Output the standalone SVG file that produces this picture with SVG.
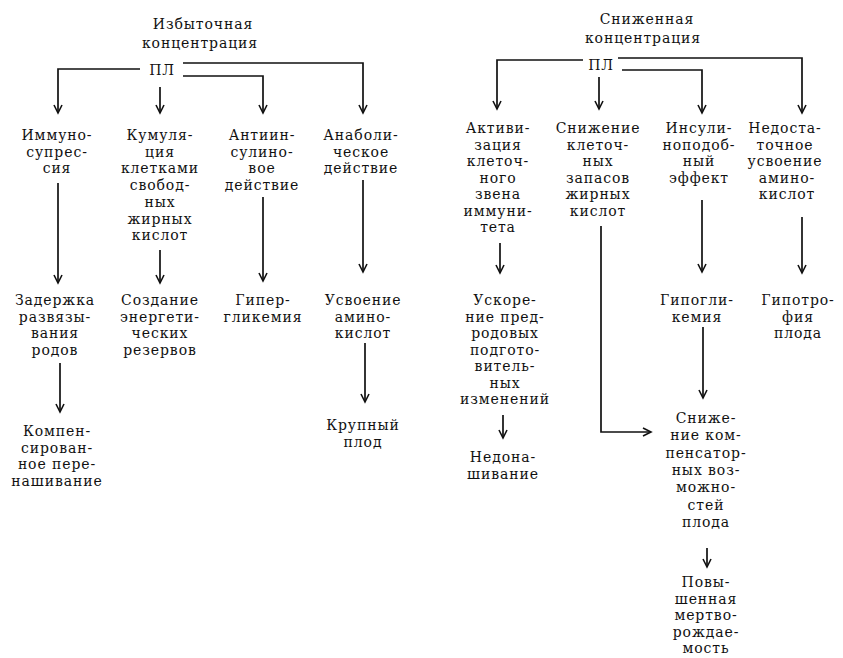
<svg xmlns="http://www.w3.org/2000/svg" width="843" height="658" viewBox="0 0 843 658">
<style>
text{font-family:"DejaVu Serif","Liberation Serif",serif;font-size:14px;letter-spacing:0.9px;fill:#111;text-anchor:middle}
.c path{fill:none;stroke:#111;stroke-width:1.7}
</style>
<defs>
<marker id="a" markerUnits="userSpaceOnUse" markerWidth="12" markerHeight="12" viewBox="-10 -6 12 12" refX="0" refY="0" orient="auto"><path d="M-8,-4 L0,0 L-8,4" fill="none" stroke="#111" stroke-width="1.6"/></marker>
</defs>
<rect width="843" height="658" fill="#fff"/>
<g class="c" id="connectors">
<path d="M140,69 H58 V113" marker-end="url(#a)"/>
<path d="M160,87 V113" marker-end="url(#a)"/>
<path d="M183,76 H263 V113" marker-end="url(#a)"/>
<path d="M183,63 H363 V113" marker-end="url(#a)"/>
<path d="M58,183 V283" marker-end="url(#a)"/>
<path d="M160,250 V283" marker-end="url(#a)"/>
<path d="M263,197 V281" marker-end="url(#a)"/>
<path d="M363,180 V272" marker-end="url(#a)"/>
<path d="M60,363 V412" marker-end="url(#a)"/>
<path d="M365,343 V402" marker-end="url(#a)"/>
<path d="M583,60 H497 V109" marker-end="url(#a)"/>
<path d="M599,77 V109" marker-end="url(#a)"/>
<path d="M622,70 H702 V113" marker-end="url(#a)"/>
<path d="M618,58 H802 V113" marker-end="url(#a)"/>
<path d="M500,243 V273" marker-end="url(#a)"/>
<path d="M601,226 V432 H651" marker-end="url(#a)"/>
<path d="M702,200 V272" marker-end="url(#a)"/>
<path d="M802,217 V273" marker-end="url(#a)"/>
<path d="M503,415 V438" marker-end="url(#a)"/>
<path d="M703,327 V398" marker-end="url(#a)"/>
<path d="M707,548 V567" marker-end="url(#a)"/>
</g>
<g id="title-left"><text x="203" y="29">Избыточная</text><text x="200" y="48">концентрация</text></g>
<g id="pl-left"><text x="162" y="75">ПЛ</text></g>
<g id="immuno"><text x="57" y="140">Иммуно-</text><text x="57" y="156.7">супрес-</text><text x="57" y="173.4">сия</text></g>
<g id="kumul"><text x="160" y="140">Кумуля-</text><text x="160" y="156.7">ция</text><text x="160" y="173.4">клетками</text><text x="160" y="190.1">свобод-</text><text x="160" y="206.8">ных</text><text x="160" y="223.5">жирных</text><text x="160" y="240.2">кислот</text></g>
<g id="antiins"><text x="262" y="140">Антиин-</text><text x="262" y="156.7">сулино-</text><text x="262" y="173.4">вое</text><text x="262" y="190.1">действие</text></g>
<g id="anabol"><text x="361" y="140">Анаболи-</text><text x="361" y="156.7">ческое</text><text x="361" y="173.4">действие</text></g>
<g id="zaderzhka"><text x="55" y="305">Задержка</text><text x="55" y="321.7">развязы-</text><text x="55" y="338.4">вания</text><text x="55" y="355.1">родов</text></g>
<g id="sozdanie"><text x="160" y="305">Создание</text><text x="160" y="321.7">энергети-</text><text x="160" y="338.4">ческих</text><text x="160" y="355.1">резервов</text></g>
<g id="hyper"><text x="263" y="305">Гипер-</text><text x="263" y="321.7">гликемия</text></g>
<g id="usvoenie"><text x="363" y="305">Усвоение</text><text x="363" y="321.7">амино-</text><text x="363" y="338.4">кислот</text></g>
<g id="kompens"><text x="57" y="436">Компен-</text><text x="57" y="452.5">сирован-</text><text x="57" y="469">ное пере-</text><text x="57" y="485.5">нашивание</text></g>
<g id="krupny"><text x="363" y="430">Крупный</text><text x="363" y="447">плод</text></g>
<g id="title-right"><text x="647" y="24">Сниженная</text><text x="643" y="43">концентрация</text></g>
<g id="pl-right"><text x="601" y="70">ПЛ</text></g>
<g id="aktiv"><text x="498" y="133">Активи-</text><text x="498" y="149.5">зация</text><text x="498" y="166">клеточ-</text><text x="498" y="182.5">ного</text><text x="498" y="199">звена</text><text x="498" y="215.5">иммуни-</text><text x="498" y="232">тета</text></g>
<g id="snizh-zap"><text x="598" y="133">Снижение</text><text x="598" y="149.5">клеточ-</text><text x="598" y="166">ных</text><text x="598" y="182.5">запасов</text><text x="598" y="199">жирных</text><text x="598" y="215.5">кислот</text></g>
<g id="insul"><text x="699" y="133">Инсули-</text><text x="699" y="149.5">ноподоб-</text><text x="699" y="166">ный</text><text x="699" y="182.5">эффект</text></g>
<g id="nedost"><text x="785" y="133">Недоста-</text><text x="785" y="149.5">точное</text><text x="785" y="166">усвоение</text><text x="787" y="182.5">амино-</text><text x="787" y="199">кислот</text></g>
<g id="uskor"><text x="505" y="305">Ускоре-</text><text x="505" y="321.5">ние пред-</text><text x="505" y="338">родовых</text><text x="505" y="354.5">подгото-</text><text x="505" y="371">витель-</text><text x="505" y="387.5">ных</text><text x="505" y="404">изменений</text></g>
<g id="hypo"><text x="697" y="305">Гипогли-</text><text x="697" y="321.5">кемия</text></g>
<g id="hypotr"><text x="798" y="305">Гипотро-</text><text x="798" y="321.5">фия</text><text x="798" y="338">плода</text></g>
<g id="nedona"><text x="503" y="462">Недона-</text><text x="503" y="478.5">шивание</text></g>
<g id="snizh-komp"><text x="706" y="423">Сниже-</text><text x="706" y="440">ние ком-</text><text x="706" y="458">пенсатор-</text><text x="706" y="475">ных воз-</text><text x="706" y="492">можно-</text><text x="706" y="510">стей</text><text x="706" y="527">плода</text></g>
<g id="mertvo"><text x="706" y="587">Повы-</text><text x="706" y="603.5">шенная</text><text x="706" y="620">мертво-</text><text x="706" y="636.5">рождае-</text><text x="706" y="653">мость</text></g>
</svg>
